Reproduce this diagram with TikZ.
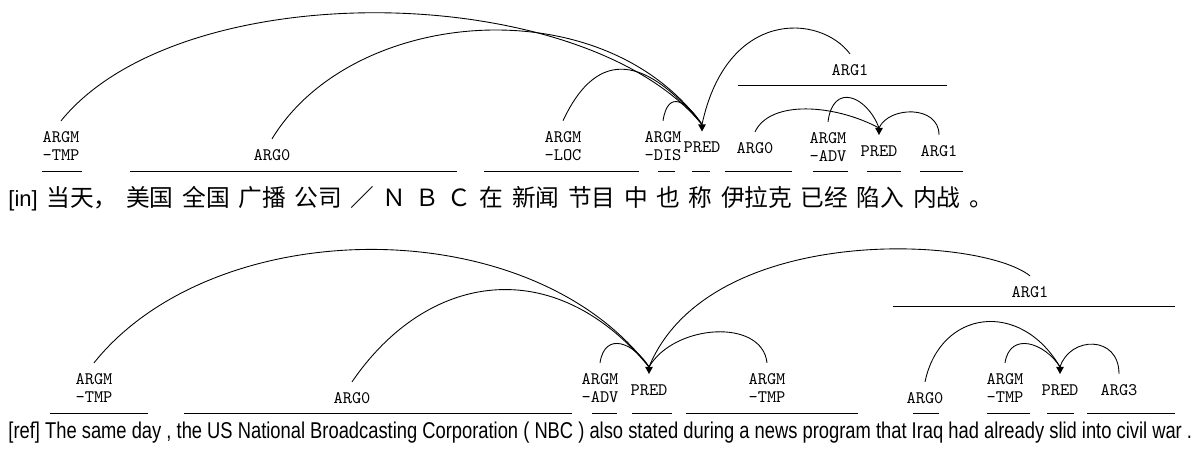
\documentclass[tikz,border=0pt]{standalone}
\usepackage{fontspec}
\usepackage{graphicx}
\newfontfamily\cjkfont{Noto Sans CJK SC}
\newfontfamily\glossfont{Liberation Sans}
\newcommand\predtip[1]{\fill (#1.north) ++(-2.2pt,0) -- ++(4.4pt,0) -- ++(-2.2pt,-4pt) -- cycle;}
\begin{document}
\begin{tikzpicture}[x=0.02cm,y=0.02cm,line width=0.5pt,
    role/.style={font=\ttfamily\fontsize{10}{10.4}\selectfont,align=center,inner sep=0pt,outer sep=6pt},
    pred/.style={role,outer sep=10pt}]
    \useasboundingbox (0,0) rectangle (1199,452);
    % [in] sentence
    \node[role] (tA) at (61,306) {ARGM\\-TMP};
    \node[role] (tB) at (272,297) {ARG0};
    \node[role] (tC) at (563,306) {ARGM\\-LOC};
    \node[role] (tD) at (663,306) {ARGM\\-DIS};
    \node[pred] (tP) at (702,304.5) {PRED};
    \node[role] (tE) at (850,382) {ARG1};
    \node[role] (tF) at (755,304) {ARG0};
    \node[role] (tG) at (828,305) {ARGM\\-ADV};
    \node[pred] (tQ) at (879,301) {PRED};
    \node[role] (tH) at (939,301) {ARG1};
    \foreach \a/\b in {42/82,130/457,484/639,658/675,692/710,725/792,813/848,867/901,920/963}
        \draw (\a,281) -- (\b,281);
    \draw (738,367) -- (947,367);
    \draw (tA.north) .. controls +(120,148) and +(-120,145) .. (tP.north);
    \draw (tB.north) .. controls +(80,132) and +(-100,138) .. (tP.north);
    \draw (tC.north) .. controls +(35,75) and +(-55,67) .. (tP.north);
    \draw (tD.north) .. controls +(5,32) and +(-15,23) .. (tP.north);
    \draw (tE.north) .. controls +(-30,40) and +(25,116) .. (tP.north);
    \draw (tF.north) .. controls +(15,32) and +(-45,24) .. (tQ.north);
    \draw (tG.north) .. controls +(5,40) and +(-12,32) .. (tQ.north);
    \draw (tH.north) .. controls +(0,30) and +(10,22) .. (tQ.north);
    \predtip{tP} \predtip{tQ}
    \node[anchor=base west,inner sep=0pt] (zh) at (8,245)
        {{\glossfont\fontsize{12.5}{14}\selectfont [in]}\hspace{5pt}{\cjkfont\fontsize{13.5}{15}\selectfont\spaceskip=4.9pt 当天， 美国 全国 广播 公司 ／ Ｎ Ｂ Ｃ 在 新闻 节目 中 也 称 伊拉克 已经 陷入 内战 。}};
    % [ref] sentence
    \node[role] (bA) at (94,64) {ARGM\\-TMP};
    \node[role] (bB) at (352,54) {ARG0};
    \node[role] (bC) at (600,64) {ARGM\\-ADV};
    \node[pred] (bP) at (649,62) {PRED};
    \node[role] (bD) at (767,64) {ARGM\\-TMP};
    \node[role] (bE) at (1030,160) {ARG1};
    \node[role] (bF) at (925,54) {ARG0};
    \node[role] (bG) at (1005,64) {ARGM\\-TMP};
    \node[pred] (bQ) at (1060,62) {PRED};
    \node[role] (bH) at (1119,62) {ARG3};
    \foreach \a/\b in {50/148,184/572,592/617,632/672,686/858,913/939,987/1030,1047/1074,1087/1175}
        \draw (\a,39) -- (\b,39);
    \draw (893,146) -- (1175,146);
    \draw (bA.north) .. controls +(120,150) and +(-120,158) .. (bP.north);
    \draw (bB.north) .. controls +(75,110) and +(-95,115) .. (bP.north);
    \draw (bC.north) .. controls +(5,32) and +(-15,24) .. (bP.north);
    \draw (bD.north) .. controls +(-5,45) and +(25,43) .. (bP.north);
    \draw (bE.north) .. controls +(-50,40) and +(60,145) .. (bP.north);
    \draw (bF.north) .. controls +(15,72) and +(-40,68) .. (bQ.north);
    \draw (bG.north) .. controls +(5,32) and +(-15,24) .. (bQ.north);
    \draw (bH.north) .. controls +(0,39) and +(10,31) .. (bQ.north);
    \predtip{bP} \predtip{bQ}
    \node[anchor=base west,inner sep=0pt] (en) at (8,13)
        {\resizebox{23.68cm}{\height}{\glossfont\fontsize{13}{15}\selectfont [ref] The same day , the US National Broadcasting Corporation ( NBC ) also stated during a news program that Iraq had already slid into civil war .}};
\end{tikzpicture}
\end{document}
